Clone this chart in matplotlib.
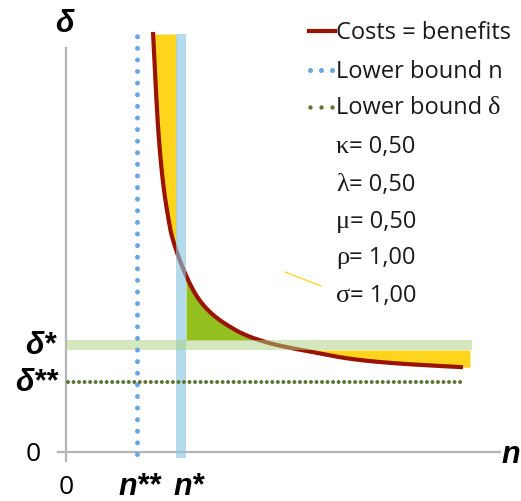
import numpy as np
import matplotlib.pyplot as plt

# costs = benefits curve (n, delta)
curve_n = [2.175, 2.22, 2.31, 2.43, 2.58, 2.675, 2.85, 3.1, 3.35, 3.675, 4.1, 4.525,
           5.025, 5.525, 6.175, 6.85, 7.525, 8.35, 9.175, 9.925]
curve_delta = [10.5, 9.6, 8.0, 6.7, 5.72, 5.3, 4.78, 4.2, 3.78, 3.43, 3.13, 2.91,
               2.74, 2.62, 2.5, 2.37, 2.28, 2.21, 2.16, 2.12]

n_low = 1.775      # n**
n_star = 2.875     # n*
delta_star = 2.675  # delta*
delta_low = 1.75   # delta**
n_max = 10.0

legend_labels = ['Costs = benefits', 'Lower bound n', 'Lower bound ']
params = ['κ', 'λ', 'μ', 'ρ', 'σ']
param_values = ['0,50', '0,50', '0,50', '1,00', '1,00']

RED = '#9a1200'
YELLOW = '#ffd41c'
GREEN = '#93c01f'
BLUE_DOT = '#6aa7e0'
GREEN_DOT = '#5d7533'
TXT = 'Open Sans'
LAB = 'Liberation Sans'


def px(x, y):
    # pixel position of the picture -> data units
    return (x - 66) / 40, (453 - y) / 40


def smooth(xs, ys, k=12):
    # catmull-rom pass through the read points, only for a smooth stroke
    p = np.column_stack([xs, ys])
    p = np.vstack([2 * p[0] - p[1], p, 2 * p[-1] - p[-2]])
    out = []
    t = np.linspace(0, 1, k, endpoint=False)[:, None]
    for i in range(1, len(p) - 2):
        a, b, c, d = p[i - 1], p[i], p[i + 1], p[i + 2]
        out.append(0.5 * (2 * b + (c - a) * t + (2 * a - 5 * b + 4 * c - d) * t ** 2
                          + (3 * b - a - 3 * c + d) * t ** 3))
    out.append(p[-2][None, :])
    out = np.vstack(out)
    return out[:, 0], out[:, 1]


fig = plt.figure(figsize=(5.21, 5.02), dpi=100)
ax = fig.add_axes([0, 0, 1, 1])
x0, y0 = px(0, 502)
x1, y1 = px(521, 0)
ax.set_xlim(x0, x1)
ax.set_ylim(y0, y1)
ax.axis('off')

cn, cd = smooth(curve_n, curve_delta)
band = 0.125
top = 10.45

# yellow area left of the n* band
d_cut = np.interp(n_star - band, cn, cd)
dd = np.linspace(d_cut, top, 300)
nn = np.interp(dd, cd[::-1], cn[::-1])
ax.fill_betweenx(dd, nn, n_star - band, color=YELLOW, lw=0, zorder=1)

# green area above the delta* band
ng = np.linspace(n_star + band, n_max + 0.1, 800)
dg = np.interp(ng, cn, cd)
ax.fill_between(ng, delta_star + band, dg, where=dg >= delta_star + band,
                interpolate=True, color=GREEN, lw=0, zorder=1)
# yellow area below the delta* band
ax.fill_between(ng, dg, delta_star - band, where=dg <= delta_star - band,
                interpolate=True, color=YELLOW, lw=0, zorder=1)

ax.plot(cn, cd, color=RED, lw=3, solid_capstyle='butt', zorder=2)

# bands
ax.fill_betweenx([-0.15, top], n_star - band, n_star + band, color='#86c6df',
                 alpha=0.62, lw=0, zorder=3)
ax.fill_between([0, n_max + 0.15], delta_star - band, delta_star + band,
                color='#abd181', alpha=0.5, lw=0, zorder=3)

# lower bounds
ax.plot([n_low, n_low], [-0.05, 10.4], color=BLUE_DOT, lw=3.6,
        linestyle=(0, (0.001, 2.32)), dash_capstyle='round', zorder=4)
ax.plot([0.05, n_max - 0.05], [delta_low, delta_low], color=GREEN_DOT, lw=2.9,
        linestyle=(0, (0.001, 1.37)), dash_capstyle='round', zorder=4)

# axes lines
ax.plot([-0.2, 10.85], [0, 0], color='#b5b5b5', lw=1.6, zorder=0)
ax.plot([0, 0], [-0.225, 10.1], color='#b5b5b5', lw=1.6, zorder=0)

# axis labels
lab = dict(family=LAB, fontweight='bold', style='italic', fontsize=22)
ax.text(*px(65, 24), 'δ', ha='center', va='center', **lab)
ax.text(*px(56, 346), 'δ*', ha='right', va='center', **lab)
ax.text(*px(58, 383), 'δ**', ha='right', va='center', **lab)
ax.text(*px(511, 455), 'n', ha='center', va='center', **lab)
ax.text(*px(140, 487), 'n**', ha='center', va='center', **lab)
ax.text(*px(189, 487), 'n*', ha='center', va='center', **lab)
ax.text(*px(33, 455), '0', ha='center', va='center', family=TXT, fontsize=19)
ax.text(*px(66, 488), '0', ha='center', va='center', family=TXT, fontsize=19)

# legend
fs = 17
ink = '#1a1a1a'
rows = [33, 72, 108, 147, 185, 222, 258, 296]
ax.plot([px(309, 0)[0], px(335, 0)[0]], [px(0, 32)[1]] * 2, color=RED, lw=3,
        clip_on=False)
ax.plot([px(x, 0)[0] for x in (310, 321, 332)], [px(0, 71)[1]] * 3, 'o',
        color=BLUE_DOT, ms=3.6, mew=0)
ax.plot([px(x, 0)[0] for x in (310, 321, 332)], [px(0, 108)[1]] * 3, 'o',
        color=GREEN_DOT, ms=3.1, mew=0)

renderer = fig.canvas.get_renderer()


def right_edge(t):
    bb = t.get_window_extent(renderer)
    return ax.transData.inverted().transform((bb.x1, 0))[0]


for label, y in zip(legend_labels, rows[:3]):
    t = ax.text(*px(336, y), label, ha='left', va='center', family=TXT,
                fontsize=fs, color=ink)
ax.text(right_edge(t), px(0, 108)[1], 'δ', ha='left', va='center',
        family='Liberation Serif', fontsize=fs + 2, color=ink)
for p, v, y in zip(params, param_values, rows[3:]):
    g = ax.text(*px(336, y), p, ha='left', va='center', family='Liberation Serif',
                fontsize=fs + 2, color=ink)
    ax.text(right_edge(g), px(0, y)[1], '= ' + v, ha='left', va='center',
            family=TXT, fontsize=fs, color=ink)

# stray yellow stroke left in the picture
ax.plot([px(285, 0)[0], px(321, 0)[0]], [px(0, 273)[1], px(0, 287)[1]],
        color=YELLOW, lw=0.9)

fig.savefig('out.png', dpi=100)
